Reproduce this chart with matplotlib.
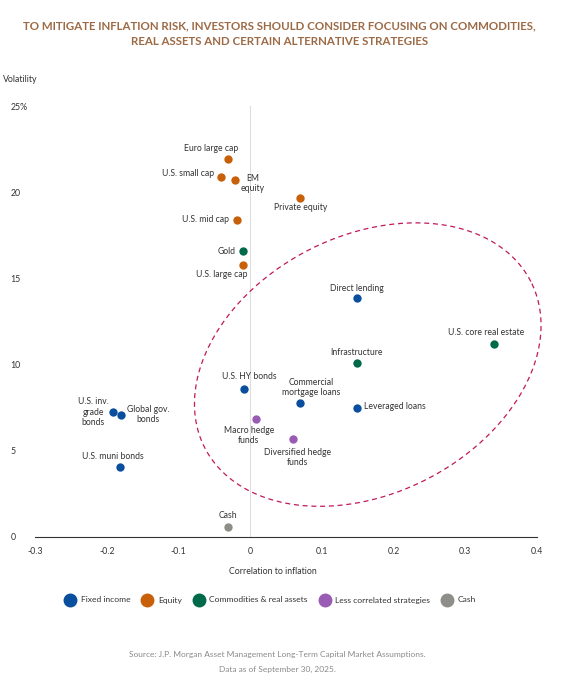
import numpy as np
import matplotlib
matplotlib.use("Agg")
import matplotlib.pyplot as plt
from matplotlib.lines import Line2D

plt.rcParams['font.family'] = ['Lato', 'DejaVu Sans']

# data
names = ["Euro large cap", "U.S. small cap", "EM\nequity", "Private equity", "U.S. mid cap",
         "Gold", "U.S. large cap", "Direct lending", "U.S. core real estate", "Infrastructure",
         "U.S. HY bonds", "Commercial\nmortgage loans", "Leveraged loans",
         "U.S. inv.\ngrade\nbonds", "Global gov.\nbonds", "Macro hedge\nfunds",
         "Diversified hedge\nfunds", "U.S. muni bonds", "Cash"]
corr = [-0.031, -0.040, -0.021, 0.070, -0.018, -0.010, -0.010, 0.149, 0.340, 0.149,
        -0.008, 0.070, 0.149, -0.191, -0.180, 0.008, 0.060, -0.181, -0.031]
vol = [21.9, 20.9, 20.7, 19.65, 18.4, 16.6, 15.8, 13.85, 11.2, 10.1,
       8.6, 7.8, 7.5, 7.25, 7.1, 6.85, 5.7, 4.05, 0.6]
group = ["eq", "eq", "eq", "eq", "eq", "cr", "eq", "fi", "cr", "cr",
         "fi", "fi", "fi", "fi", "fi", "lc", "lc", "fi", "ca"]

groups = ["fi", "eq", "cr", "lc", "ca"]
group_names = ["Fixed income", "Equity", "Commodities & real assets",
               "Less correlated strategies", "Cash"]
colors = {"fi": "#0a4f9e", "eq": "#c8600a", "cr": "#00694a", "lc": "#9a5bb4", "ca": "#8f8d88"}

# label placement: (dx px, dy px, ha)
label_pos = {
    "Euro large cap": (-17, 11, "center"),
    "U.S. small cap": (-7, 3, "right"),
    "EM\nequity": (18, -3, "center"),
    "Private equity": (0, -9, "center"),
    "U.S. mid cap": (-8, 0, "right"),
    "Gold": (-7, -1, "right"),
    "U.S. large cap": (-21, -10, "center"),
    "Direct lending": (0, 10, "center"),
    "U.S. core real estate": (-8, 11, "center"),
    "Infrastructure": (0, 10, "center"),
    "U.S. HY bonds": (5, 12, "center"),
    "Commercial\nmortgage loans": (11, 15, "center"),
    "Leveraged loans": (7, 1, "left"),
    "U.S. inv.\ngrade\nbonds": (-20, 0, "center"),
    "Global gov.\nbonds": (6, 0, "left"),
    "Macro hedge\nfunds": (-7, -17, "center"),
    "Diversified hedge\nfunds": (4, -19, "center"),
    "U.S. muni bonds": (-7, 11, "center"),
    "Cash": (0, 11, "center"),
}

fig = plt.figure(figsize=(5.61, 6.78), dpi=100)
ax = fig.add_axes([35 / 561, 1 - 537 / 678, 502 / 561, 431 / 678])
ax.set_xlim(-0.3, 0.4)
ax.set_ylim(0, 25)

ax.axvline(0, color="#dddddd", lw=0.8, zorder=0)

for n, x, y, g in zip(names, corr, vol, group):
    ax.scatter(x, y, s=36, color=colors[g], zorder=3, linewidths=0)
    dx, dy, ha = label_pos[n]
    ax.annotate(n, (x, y), xytext=(dx, dy), textcoords="offset pixels",
                ha=ha, va="center", multialignment="center",
                fontsize=6.2, color="#333333", linespacing=1.15)

# dashed highlight ellipse (built in screen-like units, then scaled to data)
px_x = 0.1 / 71.7
px_y = 1 / 17.25
cx, cy = 0.164, 10.0
a, b, phi = 183, 129, np.radians(27)
t = np.linspace(0, 2 * np.pi, 400)
ex = cx + (a * np.cos(t) * np.cos(phi) - b * np.sin(t) * np.sin(phi)) * px_x
ey = cy + (a * np.cos(t) * np.sin(phi) + b * np.sin(t) * np.cos(phi)) * px_y
ax.plot(ex, ey, color="#c2185b", lw=0.9, ls=(0, (4, 3)), zorder=2, clip_on=False)

for s in ["top", "right", "left"]:
    ax.spines[s].set_visible(False)
ax.spines["bottom"].set_color("#333333")
ax.spines["bottom"].set_linewidth(0.8)

ax.set_xticks([-0.3, -0.2, -0.1, 0, 0.1, 0.2, 0.3, 0.4])
ax.set_xticklabels(["-0.3", "-0.2", "-0.1", "0", "0.1", "0.2", "0.3", "0.4"])
ax.set_yticks([0, 5, 10, 15, 20, 25])
ax.set_yticklabels(["0", "5", "10", "15", "20", "25%"])
ax.tick_params(axis="x", length=0, pad=7, labelsize=6.3, labelcolor="#333333")
ax.tick_params(axis="y", length=0, pad=17.5, labelsize=6.3, labelcolor="#333333")
for lab in ax.get_yticklabels():
    lab.set_ha("left")

ax.set_xlabel("Correlation to inflation", fontsize=6.3, color="#333333")
ax.xaxis.set_label_coords((273 - 35) / 502, -30 / 431)

fig.text(3 / 561, 1 - 80 / 678, "Volatility", fontsize=6.3, color="#333333", va="center")

fig.suptitle("TO MITIGATE INFLATION RISK, INVESTORS SHOULD CONSIDER FOCUSING ON COMMODITIES,\n"
             "REAL ASSETS AND CERTAIN ALTERNATIVE STRATEGIES",
             x=0.498, y=1 - 20 / 678, va="top", fontsize=8.3, fontweight="bold",
             color="#9c6a45", linespacing=1.6)

handles = [Line2D([], [], marker="o", ls="", markersize=9, color=colors[g]) for g in groups]
fig.legend(handles, group_names, loc="center", bbox_to_anchor=(271 / 561, 1 - 600 / 678),
           ncol=5, frameon=False, fontsize=6.1, handletextpad=0.75, columnspacing=1.5,
           handlelength=1.0, labelcolor="#333333")

fig.text(0.495, 1 - 654 / 678,
         "Source: J.P. Morgan Asset Management Long-Term Capital Market Assumptions.",
         ha="center", va="center", fontsize=6, color="#8a8a8a")
fig.text(0.495, 1 - 669 / 678, "Data as of September 30, 2025.",
         ha="center", va="center", fontsize=6, color="#8a8a8a")

fig.savefig("out.png", dpi=100)
